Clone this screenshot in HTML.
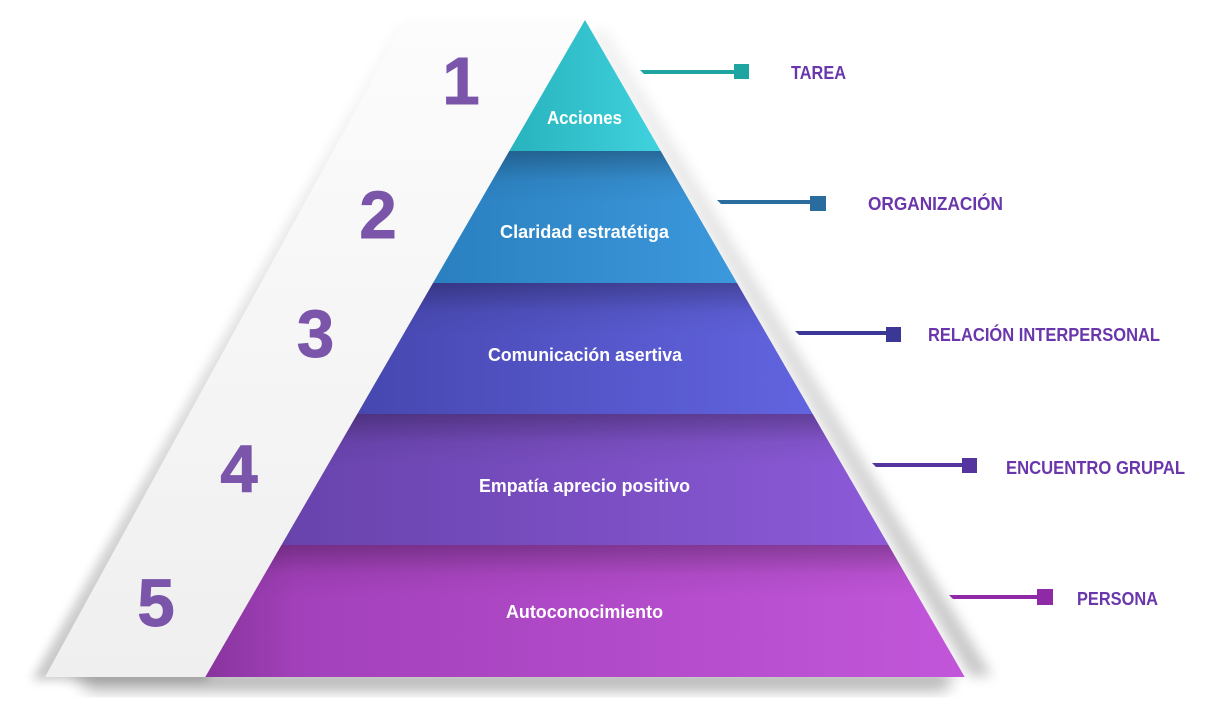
<!DOCTYPE html>
<html><head><meta charset="utf-8"><style>
html,body{margin:0;padding:0;background:#fff;width:1210px;height:710px;overflow:hidden}
svg{display:block}
text{font-family:"Liberation Sans",sans-serif;font-weight:bold}
</style></head><body>
<svg width="1210" height="710" viewBox="0 0 1210 710" xmlns="http://www.w3.org/2000/svg">
<defs>
<filter id="b8" x="-20%" y="-20%" width="140%" height="160%"><feGaussianBlur stdDeviation="8"/></filter>
<filter id="b6" x="-20%" y="-20%" width="140%" height="140%"><feGaussianBlur stdDeviation="6"/></filter>
<filter id="b4" x="-20%" y="-20%" width="140%" height="140%"><feGaussianBlur stdDeviation="5"/></filter>
<linearGradient id="wg" x1="0" y1="0" x2="0" y2="1"><stop offset="0" stop-color="#fcfcfc"/><stop offset="1" stop-color="#efefef"/></linearGradient>
<linearGradient id="sg" x1="0" y1="0" x2="0" y2="1"><stop offset="0" stop-color="#000" stop-opacity="0.02"/><stop offset="1" stop-color="#000" stop-opacity="0.22"/></linearGradient>
<linearGradient id="rg" x1="0" y1="0" x2="0" y2="1"><stop offset="0" stop-color="#000" stop-opacity="0.05"/><stop offset="1" stop-color="#000" stop-opacity="0.22"/></linearGradient>
<linearGradient id="g1" x1="0" y1="0" x2="1" y2="0"><stop offset="0" stop-color="#28b3bd"/><stop offset="1" stop-color="#3fd2de"/></linearGradient>
<linearGradient id="g2" x1="0" y1="0" x2="1" y2="0"><stop offset="0" stop-color="#2a80bf"/><stop offset="1" stop-color="#3c98dc"/></linearGradient>
<linearGradient id="g3" x1="0" y1="0" x2="1" y2="0"><stop offset="0" stop-color="#4747b0"/><stop offset="1" stop-color="#6264e0"/></linearGradient>
<linearGradient id="g4" x1="0" y1="0" x2="1" y2="0"><stop offset="0" stop-color="#6843ac"/><stop offset="1" stop-color="#8c5ad8"/></linearGradient>
<linearGradient id="g5" x1="0" y1="0" x2="1" y2="0"><stop offset="0" stop-color="#9e3db6"/><stop offset="1" stop-color="#c256da"/></linearGradient>
<linearGradient id="ts" x1="0" y1="0" x2="0" y2="1"><stop offset="0" stop-color="#000" stop-opacity="0.28"/><stop offset="0.22" stop-color="#000" stop-opacity="0.05"/><stop offset="0.4" stop-color="#000" stop-opacity="0"/></linearGradient>
<linearGradient id="ls" x1="0" y1="0" x2="1" y2="0"><stop offset="0" stop-color="#000" stop-opacity="0.14"/><stop offset="0.12" stop-color="#000" stop-opacity="0"/></linearGradient>
</defs>
<rect width="1210" height="710" fill="#fff"/>

<!-- shadows -->
<polygon points="70,672 955,672 945,690 90,690" fill="#000" opacity="0.32" filter="url(#b8)"/>
<polygon points="588,30 970,676 992,676 606,30" fill="url(#rg)" filter="url(#b6)"/>
<polygon points="398,24 585,24 206,680 32,680" fill="url(#sg)" filter="url(#b4)"/>

<!-- white face -->
<polygon points="405,20 585,20 206,677 45,677" fill="url(#wg)"/>

<!-- layers -->
<polygon points="585,20 660.7,151 509.3,151" fill="url(#g1)"/>
<polygon points="509.3,151 660.7,151 737,283 433,283" fill="url(#g2)"/>
<polygon points="509.3,151 660.7,151 737,283 433,283" fill="url(#ts)"/>
<polygon points="433,283 737,283 812.7,414 357.3,414" fill="url(#g3)"/>
<polygon points="433,283 737,283 812.7,414 357.3,414" fill="url(#ts)"/>
<polygon points="357.3,414 812.7,414 888.5,545 281.5,545" fill="url(#g4)"/>
<polygon points="357.3,414 812.7,414 888.5,545 281.5,545" fill="url(#ts)"/>
<polygon points="281.5,545 888.5,545 964.7,677 205.3,677" fill="url(#g5)"/>
<polygon points="281.5,545 888.5,545 964.7,677 205.3,677" fill="url(#ts)"/>
<polygon points="585,20 964.7,677 205.3,677" fill="url(#ls)"/>

<!-- numbers -->
<g fill="#7a55aa" font-size="67" text-anchor="middle" stroke="#7a55aa" stroke-width="1">
<text x="461" y="104">1</text>
<text x="378" y="238">2</text>
<text x="315.5" y="357">3</text>
<text x="239" y="492">4</text>
<text x="156" y="626">5</text>
</g>

<!-- layer labels -->
<g fill="#fff" font-size="18">
<text x="547" y="124" textLength="75" lengthAdjust="spacingAndGlyphs">Acciones</text>
<text x="500" y="238" textLength="169" lengthAdjust="spacingAndGlyphs">Claridad estratétiga</text>
<text x="488" y="361" textLength="194" lengthAdjust="spacingAndGlyphs">Comunicación asertiva</text>
<text x="479" y="492" textLength="211" lengthAdjust="spacingAndGlyphs">Empatía aprecio positivo</text>
<text x="506" y="618" textLength="157" lengthAdjust="spacingAndGlyphs">Autoconocimiento</text>
</g>

<!-- connectors -->
<polygon points="640,70 736,70 736,74 644,74" fill="#1ea5a2"/>
<rect x="734" y="64" width="15" height="15" fill="#1ea5a2"/>
<polygon points="717,200 812,200 812,204 721,204" fill="#2a6c9e"/>
<rect x="810" y="196" width="16" height="15" fill="#2a6c9e"/>
<polygon points="795,331 888,331 888,335 799,335" fill="#3b3797"/>
<rect x="886" y="327" width="15" height="15" fill="#3b3797"/>
<polygon points="872,463 964,463 964,467 876,467" fill="#5634a0"/>
<rect x="962" y="458" width="15" height="15" fill="#5634a0"/>
<polygon points="949,595 1039,595 1039,599 953,599" fill="#8e2aa5"/>
<rect x="1037" y="589" width="16" height="16" fill="#8e2aa5"/>

<!-- right labels -->
<g fill="#6a36ab" font-size="18.5">
<text x="791" y="79" textLength="55" lengthAdjust="spacingAndGlyphs">TAREA</text>
<text x="868" y="210" textLength="135" lengthAdjust="spacingAndGlyphs">ORGANIZACIÓN</text>
<text x="928" y="341" textLength="232" lengthAdjust="spacingAndGlyphs">RELACIÓN INTERPERSONAL</text>
<text x="1006" y="474" textLength="179" lengthAdjust="spacingAndGlyphs">ENCUENTRO GRUPAL</text>
<text x="1077" y="605" textLength="81" lengthAdjust="spacingAndGlyphs">PERSONA</text>
</g>
</svg>
</body></html>
